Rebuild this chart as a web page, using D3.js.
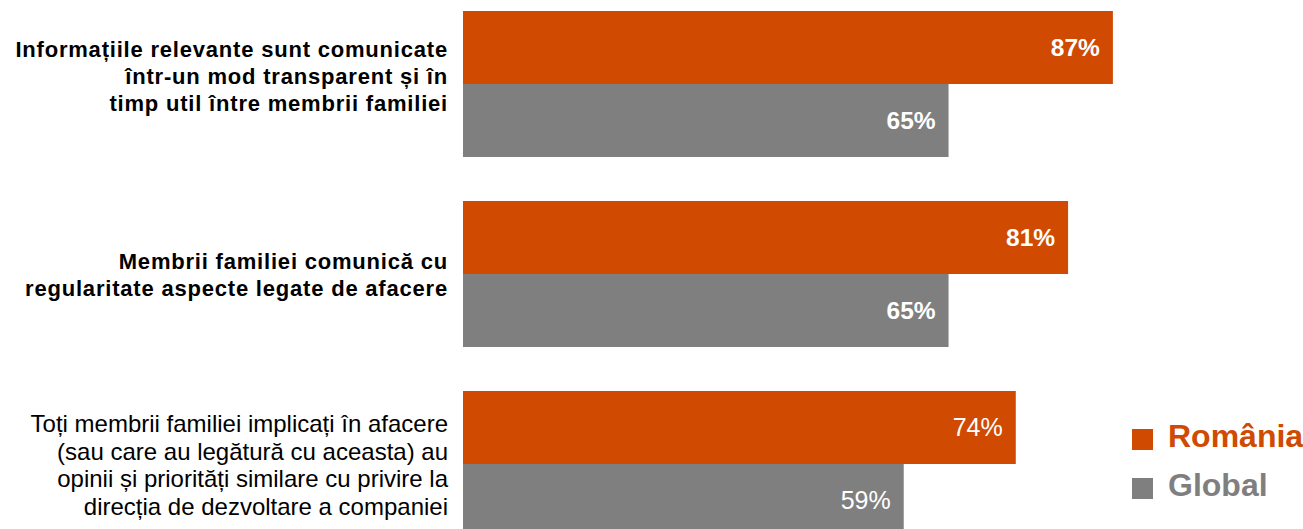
<!DOCTYPE html>
<html>
<head>
<meta charset="utf-8">
<script src="https://cdn.jsdelivr.net/npm/d3@7"></script>
<style>
    body { margin: 0; background: #fff; }
    svg { display: block; font-family: "Liberation Sans", Arial, Helvetica, sans-serif; }
</style>
</head>
<body>
<svg id="chart" width="1303" height="529"></svg>
<script>
    // data
    var categories = [
        ["Informațiile relevante sunt comunicate", "într-un mod transparent și în", "timp util între membrii familiei"],
        ["Membrii familiei comunică cu", "regularitate aspecte legate de afacere"],
        ["Toți membrii familiei implicați în afacere", "(sau care au legătură cu aceasta) au", "opinii și priorități similare cu privire la", "direcția de dezvoltare a companiei"]
    ];
    var boldLabel = [true, true, false];
    var series = ["România", "Global"];
    var romania = [87, 81, 74];
    var global = [65, 65, 59];
    var colors = ["#D04A02", "#7F7F7F"];

    var svg = d3.select("#chart");

    var x = d3.scaleLinear().domain([0, 100]).range([463, 1210]);
    var y = d3.scaleBand().domain(d3.range(categories.length)).range([11, 537]).paddingInner(0.2316).paddingOuter(0);
    var ySub = d3.scaleBand().domain(series).range([0, y.bandwidth()]);
    var color = d3.scaleOrdinal().domain(series).range(colors);

    // small vertical nudge of each label block (baseline of middle line vs band centre)
    var labelNudge = [0, 8.5, 9.5];

    var groups = svg.selectAll("g.group")
        .data(categories)
        .enter().append("g")
        .attr("class", "group")
        .attr("transform", function(d, i) { return "translate(0," + y(i) + ")"; });

    groups.each(function(lines, i) {
        var g = d3.select(this);
        var vals = [romania[i], global[i]];
        var bold = boldLabel[i];

        series.forEach(function(s, k) {
            g.append("rect")
                .attr("x", x(0))
                .attr("y", ySub(s))
                .attr("width", x(vals[k]) - x(0))
                .attr("height", ySub.bandwidth())
                .attr("fill", color(s));

            g.append("text")
                .attr("x", x(vals[k]) - 13)
                .attr("y", ySub(s) + ySub.bandwidth() / 2)
                .attr("dy", "0.36em")
                .attr("text-anchor", "end")
                .attr("fill", "#fff")
                .attr("font-size", bold ? 24.5 : 25)
                .attr("font-weight", bold ? "bold" : "normal")
                .text(vals[k] + "%");
        });

        // category label
        var lh = bold ? 27 : 27.7;
        var mid = y.bandwidth() / 2 + labelNudge[i];
        var label = g.append("text")
            .attr("text-anchor", "end")
            .attr("font-size", bold ? 22 : 24)
            .attr("letter-spacing", bold ? 0.8 : 0)
            .attr("font-weight", bold ? "bold" : "normal")
            .attr("fill", "#000");
        label.selectAll("tspan")
            .data(lines)
            .enter().append("tspan")
            .attr("x", 448)
            .attr("y", function(d, j) { return mid + (j - (lines.length - 1) / 2) * lh; })
            .text(function(d) { return d; });
    });

    // legend
    var legend = svg.append("g").attr("transform", "translate(1132,429)");
    var item = legend.selectAll("g")
        .data(series)
        .enter().append("g")
        .attr("transform", function(d, i) { return "translate(0," + (i * 49) + ")"; });
    item.append("rect")
        .attr("width", 21)
        .attr("height", 21)
        .attr("fill", function(d) { return color(d); });
    item.append("text")
        .attr("x", 36)
        .attr("y", 18)
        .attr("font-size", 32)
        .attr("font-weight", "bold")
        .attr("fill", function(d) { return color(d); })
        .text(function(d) { return d; });
</script>
</body>
</html>
